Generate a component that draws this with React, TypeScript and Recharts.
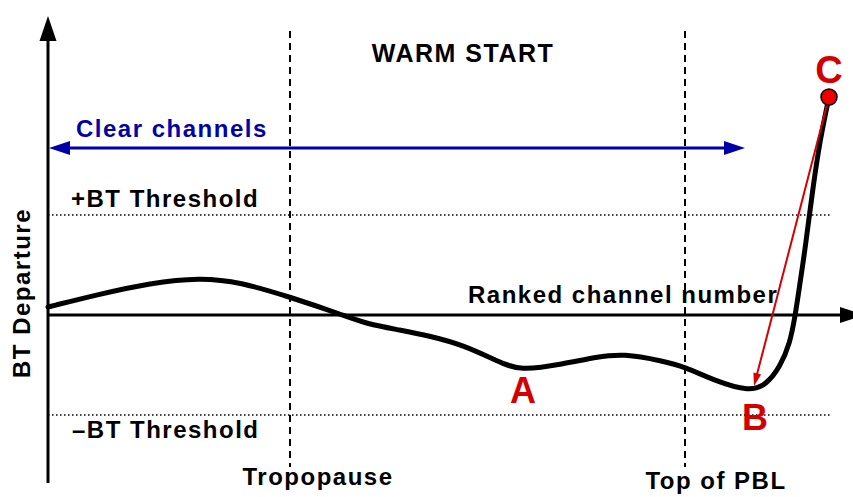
import React from "react";
import {
  ComposedChart,
  Line,
  XAxis,
  YAxis,
  ReferenceLine,
  ReferenceDot,
} from "recharts";

// Schematic curve: ranked channel number vs. BT departure (threshold = ±1)
const channelRank = [
  0, 52, 102, 152, 192, 242, 295, 319, 352, 382, 415, 449, 472, 515, 549, 575,
  615, 637, 665, 702, 719, 732, 742, 747, 752, 757, 765, 772, 781,
];
const departure = [
  0.08, 0.21, 0.32, 0.375, 0.33, 0.18, 0.0, -0.09, -0.15, -0.21, -0.3, -0.46,
  -0.56, -0.49, -0.42, -0.385, -0.46, -0.52, -0.65, -0.77, -0.69, -0.52, -0.28,
  -0.02, 0.32, 0.65, 1.28, 1.75, 2.18,
];
const thresholds = [1, -1];
const levelMarkers = [242, 637]; // Tropopause, Top of PBL
const levelLabels = ["Tropopause", "Top of PBL"];
const pointLabels = ["A", "B", "C"];
const pointC = { x: 781, y: 2.18 };
const pointB = { x: 706, y: -0.71 };

const curve = channelRank.map((x, i) => ({ x, y: departure[i] }));

const FONT = "'Liberation Sans', Arial, Helvetica, sans-serif";
const RED = "#d40000";
const BLUE = "#0000aa";

function arrowShape(
  color: string,
  width: number,
  len: number,
  half: number,
  both = false
) {
  return (p: any) => {
    const { x1, y1, x2, y2 } = p;
    const dx = x2 - x1;
    const dy = y2 - y1;
    const d = Math.sqrt(dx * dx + dy * dy) || 1;
    const ux = dx / d;
    const uy = dy / d;
    const nx = -uy;
    const ny = ux;
    const head = (tx: number, ty: number, sx: number, sy: number) => {
      const bx = tx - sx * len;
      const by = ty - sy * len;
      return `${tx},${ty} ${bx + nx * half},${by + ny * half} ${bx - nx * half},${by - ny * half}`;
    };
    const sx = both ? x1 + ux * (len - 2) : x1;
    const sy = both ? y1 + uy * (len - 2) : y1;
    const ex = x2 - ux * (len - 2);
    const ey = y2 - uy * (len - 2);
    return (
      <g>
        <line x1={sx} y1={sy} x2={ex} y2={ey} stroke={color} strokeWidth={width} />
        <polygon points={head(x2, y2, ux, uy)} fill={color} />
        {both && <polygon points={head(x1, y1, -ux, -uy)} fill={color} />}
      </g>
    );
  };
}

function textShape(
  text: string,
  opts: {
    size: number;
    color?: string;
    anchor?: "start" | "middle" | "end";
    spacing?: number;
    rotate?: boolean;
  }
) {
  return (p: any) => (
    <text
      x={p.cx}
      y={p.cy}
      fill={opts.color || "#000"}
      fontFamily={FONT}
      fontWeight="bold"
      fontSize={opts.size}
      letterSpacing={opts.spacing ?? 0}
      textAnchor={opts.anchor || "start"}
      transform={opts.rotate ? `rotate(-90 ${p.cx} ${p.cy})` : undefined}
    >
      {text}
    </text>
  );
}

export default function App() {
  return (
    <div style={{ position: "absolute", left: 0, top: 0, background: "#fff" }}>
      <ComposedChart
        width={853}
        height={497}
        data={curve}
        margin={{ top: 0, right: 0, bottom: 0, left: 0 }}
      >
        <XAxis type="number" dataKey="x" domain={[-48, 805]} hide allowDataOverflow />
        <YAxis type="number" domain={[-1.82, 3.15]} hide allowDataOverflow />

        {thresholds.map((t) => (
          <ReferenceLine
            key={"th" + t}
            ifOverflow="visible"
            segment={[
              { x: 0, y: t },
              { x: 783, y: t },
            ]}
            stroke="#000"
            strokeWidth={1.5}
            strokeDasharray="1.5 2.5"
          />
        ))}

        {levelMarkers.map((m) => (
          <ReferenceLine
            key={"lv" + m}
            ifOverflow="visible"
            segment={[
              { x: m, y: 2.84 },
              { x: m, y: -1.52 },
            ]}
            stroke="#000"
            strokeWidth={2}
            strokeDasharray="7 5"
          />
        ))}

        {/* Y axis */}
        <ReferenceLine
          ifOverflow="visible"
          segment={[
            { x: 0, y: -1.68 },
            { x: 0, y: 2.99 },
          ]}
          shape={arrowShape("#000", 3, 25, 8.5)}
        />
        {/* X axis */}
        <ReferenceLine
          ifOverflow="visible"
          segment={[
            { x: 0, y: 0 },
            { x: 817, y: 0 },
          ]}
          shape={arrowShape("#000", 3, 25, 8)}
        />
        {/* Clear channels */}
        <ReferenceLine
          ifOverflow="visible"
          segment={[
            { x: 1, y: 1.67 },
            { x: 697, y: 1.67 },
          ]}
          shape={arrowShape(BLUE, 3, 21, 7, true)}
        />

        <Line
          type="basis"
          dataKey="y"
          stroke="#000"
          strokeWidth={5}
          dot={false}
          activeDot={false}
          strokeLinecap="round"
          isAnimationActive={false}
        />

        {/* C -> B arrow */}
        <ReferenceLine
          ifOverflow="visible"
          segment={[pointC, pointB]}
          shape={arrowShape(RED, 2, 13, 4)}
        />
        <ReferenceDot
          ifOverflow="visible"
          x={pointC.x}
          y={pointC.y}
          r={8}
          fill="#ee0000"
          stroke="#000"
          strokeWidth={1.5}
        />

        {/* Texts */}
        <ReferenceDot ifOverflow="visible" x={415} y={2.53} r={0}
          shape={textShape("WARM START", { size: 25, anchor: "middle", spacing: 1.5 })} />
        <ReferenceDot ifOverflow="visible" x={28} y={1.78} r={0}
          shape={textShape("Clear channels", { size: 24, spacing: 1.5, color: BLUE })} />
        <ReferenceDot ifOverflow="visible" x={23} y={1.08} r={0}
          shape={textShape("+BT Threshold", { size: 24, spacing: 1.5 })} />
        <ReferenceDot ifOverflow="visible" x={24} y={-1.23} r={0}
          shape={textShape("\u2013BT Threshold", { size: 24, spacing: 1.5 })} />
        <ReferenceDot ifOverflow="visible" x={420} y={0.12} r={0}
          shape={textShape("Ranked channel number", { size: 24, spacing: 1.5 })} />
        <ReferenceDot ifOverflow="visible" x={-18} y={0.22} r={0}
          shape={textShape("BT Departure", { size: 24, spacing: 1.5, anchor: "middle", rotate: true })} />
        <ReferenceDot ifOverflow="visible" x={270} y={-1.7} r={0}
          shape={textShape(levelLabels[0], { size: 24, spacing: 1.5, anchor: "middle" })} />
        <ReferenceDot ifOverflow="visible" x={668} y={-1.74} r={0}
          shape={textShape(levelLabels[1], { size: 24, spacing: 1.5, anchor: "middle" })} />
        <ReferenceDot ifOverflow="visible" x={475} y={-0.88} r={0}
          shape={textShape(pointLabels[0], { size: 36, anchor: "middle", color: RED })} />
        <ReferenceDot ifOverflow="visible" x={707} y={-1.15} r={0}
          shape={textShape(pointLabels[1], { size: 36, anchor: "middle", color: RED })} />
        <ReferenceDot ifOverflow="visible" x={781} y={2.32} r={0}
          shape={textShape(pointLabels[2], { size: 38, anchor: "middle", color: RED })} />
      </ComposedChart>
    </div>
  );
}
